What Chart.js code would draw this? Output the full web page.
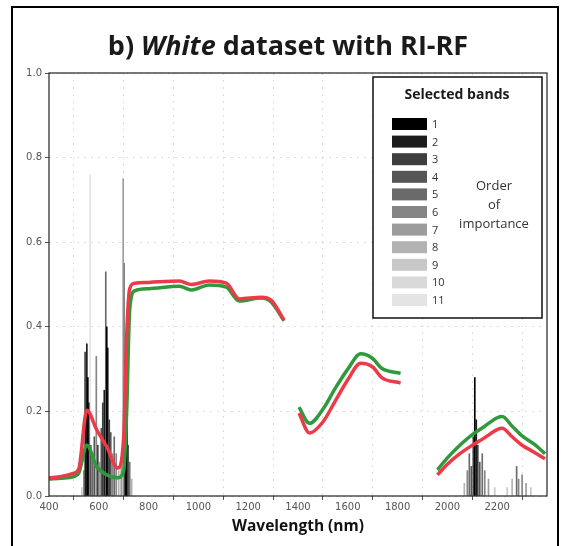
<!DOCTYPE html>
<html>
<head>
<meta charset="utf-8">
<script src="https://cdn.jsdelivr.net/npm/chart.js@4"></script>
<style>
  html, body { margin: 0; padding: 0; background: #fff; }
  #wrap { position: relative; width: 571px; height: 546px; }
</style>
</head>
<body>
<div id="wrap"><canvas id="c" width="571" height="546"></canvas></div>
<script>
// Wavelength sampling (nm); null reflectance marks the water-absorption gaps
const wavelength = [400, 450, 500, 520, 552, 592, 632, 676, 700, 712, 724, 744, 800, 924, 972, 1044, 1112, 1164, 1252, 1292, 1344,
                    1375,
                    1404, 1446, 1500, 1550, 1600, 1652, 1700, 1736, 1812,
                    1880,
                    1960, 2000, 2050, 2100, 2150, 2200, 2220, 2260, 2300, 2350, 2392];
const redReflectance = [0.043, 0.046, 0.054, 0.065, 0.203, 0.156, 0.116, 0.066, 0.14, 0.38, 0.49, 0.503, 0.505, 0.508, 0.500, 0.508, 0.503, 0.466, 0.470, 0.463, 0.416,
                        null,
                        0.196, 0.149, 0.175, 0.225, 0.275, 0.314, 0.305, 0.280, 0.267,
                        null,
                        0.050, 0.075, 0.100, 0.120, 0.138, 0.157, 0.160, 0.140, 0.120, 0.103, 0.088];
const greenReflectance = [0.040, 0.042, 0.046, 0.055, 0.120, 0.069, 0.050, 0.043, 0.060, 0.20, 0.44, 0.485, 0.490, 0.496, 0.487, 0.499, 0.494, 0.461, 0.468, 0.459, 0.414,
                          null,
                          0.210, 0.172, 0.205, 0.255, 0.300, 0.336, 0.325, 0.302, 0.290,
                          null,
                          0.062, 0.090, 0.120, 0.145, 0.165, 0.185, 0.188, 0.165, 0.142, 0.122, 0.100];

// Selected bands: position (nm), selection frequency, importance rank (1 = most important)
const bandWavelength = [532, 540, 545, 548, 552, 556, 560, 565, 568, 575, 582, 590, 596, 603, 610, 616, 622, 628, 632, 636, 642, 648, 655, 662, 670, 680, 690, 698, 702, 706, 710, 714, 718, 724, 732,
                        2068, 2080, 2088, 2096, 2104, 2110, 2116, 2122, 2130, 2140, 2150, 2165, 2190, 2240, 2260, 2278, 2286, 2300, 2316, 2335];
const bandFrequency  = [0.02, 0.06, 0.34, 0.20, 0.36, 0.28, 0.22, 0.76, 0.12, 0.10, 0.14, 0.33, 0.12, 0.08, 0.16, 0.22, 0.25, 0.53, 0.40, 0.35, 0.18, 0.15, 0.10, 0.14, 0.10, 0.06, 0.08, 0.75, 0.55, 0.32, 0.28, 0.20, 0.12, 0.08, 0.04,
                        0.03, 0.06, 0.10, 0.07, 0.14, 0.28, 0.18, 0.12, 0.08, 0.10, 0.06, 0.04, 0.02, 0.02, 0.04, 0.07, 0.04, 0.05, 0.03, 0.02];
const bandRank       = [9, 6, 3, 2, 2, 1, 3, 11, 4, 5, 4, 6, 3, 7, 4, 3, 2, 5, 1, 2, 3, 4, 6, 5, 6, 8, 7, 7, 6, 2, 1, 3, 4, 5, 8,
                        8, 6, 5, 4, 3, 1, 2, 3, 4, 5, 6, 7, 9, 9, 8, 5, 6, 6, 7, 9];

const rankLabels = ['1', '2', '3', '4', '5', '6', '7', '8', '9', '10', '11'];
const rankColors = ['#000000', '#1c1c1c', '#3e3e3e', '#555555', '#6a6a6a', '#858585', '#9c9c9c', '#b2b2b2', '#c8c8c8', '#d9d9d9', '#e4e4e4'];

const yTicks = [0, 0.2, 0.4, 0.6, 0.8, 1.0];
const xTicks = [400, 600, 800, 1000, 1200, 1400, 1600, 1800, 2000, 2200];

const pts = arr => wavelength.map((w, i) => ({ x: w, y: arr[i] }));

const bandSets = rankLabels.map((lab, r) => ({
  type: 'bar',
  label: 'Rank ' + lab,
  data: bandWavelength.map((w, i) => ({ x: w, y: bandFrequency[i], r: bandRank[i] }))
                      .filter(p => p.r === r + 1),
  backgroundColor: rankColors[r],
  barThickness: 1,
  grouped: false,
  order: 3
}));

// Background, figure frame, title and the band legend
const decor = {
  id: 'decor',
  beforeDraw(chart) {
    const ctx = chart.ctx;
    ctx.save();
    ctx.fillStyle = '#fff';
    ctx.fillRect(0, 0, chart.width, chart.height);
    ctx.restore();
  },
  afterDraw(chart) {
    const ctx = chart.ctx;
    const a = chart.chartArea;
    ctx.save();
    // outer figure frame
    ctx.strokeStyle = '#000';
    ctx.lineWidth = 2;
    ctx.strokeRect(12, 7, 546, 600);
    // plot frame
    ctx.lineWidth = 1.2;
    ctx.strokeStyle = '#222';
    ctx.strokeRect(a.left, a.top, a.right - a.left, a.bottom - a.top);

    // title with italic word
    const size = 27;
    const parts = [
      { t: 'b) ', f: `bold ${size}px "Open Sans", sans-serif` },
      { t: 'White', f: `italic bold ${size}px "Open Sans", sans-serif` },
      { t: ' dataset with RI-RF', f: `bold ${size}px "Open Sans", sans-serif` }
    ];
    let total = 0;
    parts.forEach(p => { ctx.font = p.f; p.w = ctx.measureText(p.t).width; total += p.w; });
    let x = 288 - total / 2;
    ctx.fillStyle = '#1a1a1a';
    ctx.textBaseline = 'alphabetic';
    parts.forEach(p => { ctx.font = p.f; ctx.fillText(p.t, x, 55); x += p.w; });

    // band legend
    const lx = 373, ly = 77, lw = 169, lh = 241;
    ctx.fillStyle = '#fff';
    ctx.fillRect(lx, ly, lw, lh);
    ctx.strokeStyle = '#111';
    ctx.lineWidth = 1.5;
    ctx.strokeRect(lx, ly, lw, lh);
    ctx.fillStyle = '#1a1a1a';
    ctx.font = 'bold 14px "Open Sans", sans-serif';
    ctx.textAlign = 'center';
    ctx.fillText('Selected bands', 457, 99);
    ctx.font = '11px "Open Sans", sans-serif';
    rankLabels.forEach((lab, i) => {
      const y = 118 + i * 17.6;
      ctx.fillStyle = rankColors[i];
      ctx.fillRect(392, y, 35, 12);
      ctx.fillStyle = '#333';
      ctx.textAlign = 'left';
      ctx.fillText(lab, 432, y + 10);
    });
    ctx.textAlign = 'center';
    ctx.fillStyle = '#333';
    ctx.font = '13px "Open Sans", sans-serif';
    ctx.fillText('Order', 494, 190);
    ctx.fillText('of', 494, 209);
    ctx.fillText('importance', 494, 228);
    ctx.restore();
  }
};

new Chart(document.getElementById('c'), {
  type: 'line',
  data: {
    datasets: [
      {
        label: 'Red',
        data: pts(redReflectance),
        borderColor: '#ec3a48',
        borderWidth: 3.5,
        pointRadius: 0,
        cubicInterpolationMode: 'monotone',
        spanGaps: false,
        order: 1
      },
      {
        label: 'Green',
        data: pts(greenReflectance),
        borderColor: '#2f9a3c',
        borderWidth: 3.5,
        pointRadius: 0,
        cubicInterpolationMode: 'monotone',
        spanGaps: false,
        order: 2
      },
      ...bandSets
    ]
  },
  options: {
    responsive: false,
    animation: false,
    devicePixelRatio: 1,
    layout: { padding: { top: 73, right: 24, left: 0, bottom: 0 } },
    plugins: { legend: { display: false }, tooltip: { enabled: false }, title: { display: false } },
    scales: {
      x: {
        type: 'linear',
        min: 400, max: 2400,
        offset: false,
        afterBuildTicks: s => { s.ticks = xTicks.map(v => ({ value: v })); },
        afterFit: s => { s.height = 50; },
        ticks: { color: '#555', font: { size: 10, family: '"DejaVu Sans", sans-serif' }, padding: 1, maxRotation: 0, autoSkip: false, callback: v => String(v) },
        grid: { color: 'rgba(0,0,0,0.13)', tickLength: 4, tickColor: '#555', drawOnChartArea: true },
        border: { display: false, dash: [2, 5] },
        title: { display: true, text: 'Wavelength (nm)', color: '#111', font: { size: 15.5, weight: 'bold', family: '"Open Sans", sans-serif' }, padding: { top: 0, bottom: 10 } }
      },
      y: {
        min: 0, max: 1,
        afterBuildTicks: s => { s.ticks = yTicks.map(v => ({ value: v })); },
        afterFit: s => { s.width = 49; },
        ticks: { color: '#555', font: { size: 10, family: '"DejaVu Sans", sans-serif' }, padding: 3, callback: v => v.toFixed(1) },
        grid: { color: 'rgba(0,0,0,0.13)', tickLength: 4, tickColor: '#555' },
        border: { display: false, dash: [2, 5] }
      }
    }
  },
  plugins: [decor]
});
</script>
</body>
</html>
